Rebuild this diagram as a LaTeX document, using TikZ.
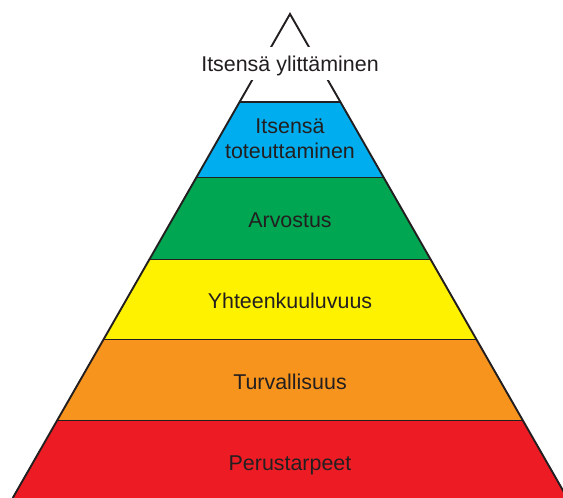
\documentclass[tikz,border=0pt]{standalone}
\usepackage{fontspec}
\setmainfont{Liberation Sans}
\definecolor{ink}{RGB}{35,31,32}
\definecolor{lvblue}{RGB}{0,174,239}
\definecolor{lvgreen}{RGB}{0,166,81}
\definecolor{lvyellow}{RGB}{255,242,0}
\definecolor{lvorange}{RGB}{247,148,29}
\definecolor{lvred}{RGB}{237,28,36}
\tikzset{
  lbl/.style={text=ink, inner sep=0pt, font=\fontsize{21.5}{25}\selectfont},
  rim/.style={draw=ink, line width=1.9bp}
}
\begin{document}
\begin{tikzpicture}[x=1bp,y=1bp]
\useasboundingbox (0,0) rectangle (563,498);
\coordinate (apex) at (290,484);
\coordinate (baseL) at (12.7,0);
\coordinate (baseR) at (567.3,0);
% colour bands, cut to the triangle
\begin{scope}
\clip (apex) -- (baseL) -- (baseR) -- cycle;
\foreach \ya/\yb/\c in {0/77.5/lvred,77.5/159/lvorange,159/239/lvyellow,239/321/lvgreen,321/396.3/lvblue} {
  \fill[\c] (0,\ya) rectangle (600,\yb);
  \draw[rim] (0,\yb) -- (600,\yb);
}
\end{scope}
\draw[rim, line join=miter] (baseL) -- (apex) -- (baseR);
% level names
\node[lbl, fill=white, anchor=base, inner xsep=4bp, inner ysep=3.5bp,
  text height=21.5bp, text depth=4.5bp] (top) at (290,426) {Itsensä ylittäminen};
\node[lbl, align=center] (self) at (290,358.9) {Itsensä\\toteuttaminen};
\foreach \y/\n/\t in {270.7/esteem/Arvostus,189.7/belong/Yhteenkuuluvuus,108/safety/Turvallisuus,27.3/basic/Perustarpeet} {
  \node[lbl, anchor=base] (\n) at (290,\y) {\t};
}
\end{tikzpicture}
\end{document}
